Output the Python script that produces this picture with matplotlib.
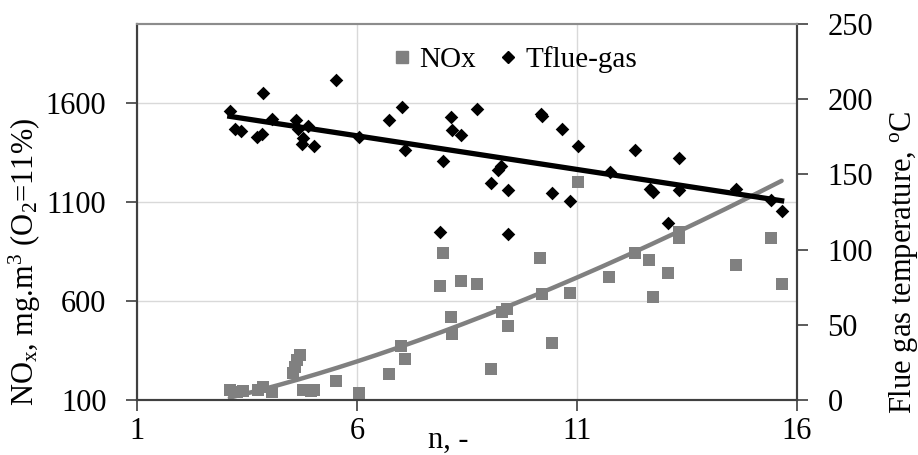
import matplotlib.pyplot as plt
import numpy as np

plt.rcParams['font.family'] = ['Liberation Serif', 'DejaVu Serif']
plt.rcParams['mathtext.fontset'] = 'custom'
plt.rcParams['mathtext.rm'] = 'Liberation Serif'
plt.rcParams['mathtext.it'] = 'Liberation Serif:italic'

# NOx measurements (left axis)
n_nox = [3.11, 3.27, 3.40, 3.76, 3.87, 4.06, 4.55, 4.59, 4.63, 4.70, 4.78, 4.95, 5.02,
         5.52, 6.05, 6.73, 7.01, 7.09, 7.89, 7.95, 8.13, 8.15, 8.36, 8.72, 9.05, 9.29,
         9.40, 9.44, 10.16, 10.21, 10.44, 10.83, 11.02, 11.73, 12.32, 12.64, 12.72,
         13.06, 13.32, 13.32, 14.61, 15.40, 15.65]
nox = [150, 142, 145, 150, 165, 142, 235, 265, 300, 327, 150, 148, 150,
       196, 134, 230, 374, 305, 676, 844, 521, 432, 699, 684, 257, 546,
       558, 475, 816, 634, 386, 639, 1202, 723, 841, 807, 619,
       740, 950, 920, 782, 917, 686]

# points read along the NOx power trendline
n_nox_trend = [4.21, 5.45, 8.5, 11.6, 12.32, 15.65]
nox_trend = [176, 250, 505, 790, 841, 1191]

# flue gas temperature (right axis)
n_temp = [3.11, 3.23, 3.36, 3.72, 3.83, 3.87, 4.06, 4.61, 4.67, 4.74, 4.78, 4.89, 5.02,
          5.52, 6.05, 6.73, 7.03, 7.10, 7.89, 7.96, 8.13, 8.16, 8.36, 8.72, 9.05, 9.21,
          9.27, 9.44, 9.44, 10.18, 10.20, 10.44, 10.67, 10.84, 11.03, 11.74, 12.32,
          12.66, 12.72, 13.06, 13.32, 13.32, 14.61, 15.42, 15.65]
temp = [192, 180, 179, 175, 177, 204, 187, 186, 180, 170, 174, 182, 169,
        213, 175, 186, 194.5, 166.5, 111.5, 159, 188, 179.5, 176, 193.5, 144.5, 153,
        155.5, 139.5, 110.5, 190, 189, 137.7, 180.5, 132.4, 168.7, 151.7, 166,
        140, 138.4, 117.8, 161, 139.5, 140.2, 132.9, 125.8]

gray = '#808080'

fig = plt.figure(figsize=(9.18, 4.55), dpi=100)
ax = fig.add_axes([137 / 918, 1 - 400 / 455, 660 / 918, 376 / 455])
ax2 = ax.twinx()

# NOx + power trend
ax.scatter(n_nox, nox, marker='s', s=75, color=gray, zorder=3, linewidths=0)
b, lna = np.polyfit(np.log(n_nox_trend), np.log(nox_trend), 1)
xx = np.linspace(min(n_nox), max(n_nox), 200)
ax.plot(xx, np.exp(lna) * xx ** b, color=gray, lw=3.2, zorder=4, solid_capstyle='round')

# temperature + linear trend
ax2.scatter(n_temp, temp, marker='D', s=48, color='black', zorder=3, linewidths=0)
c2 = np.polyfit(n_temp, temp, 1)
xx2 = np.linspace(min(n_temp), max(n_temp), 50)
ax2.plot(xx2, np.polyval(c2, xx2), color='black', lw=3.8, zorder=4)

ax.set_xlim(1, 16)
ax.set_xticks([1, 6, 11, 16])
ax.set_ylim(100, 2000)
ax.set_yticks([100, 600, 1100, 1600])
ax2.set_ylim(0, 250)
ax2.set_yticks([0, 50, 100, 150, 200, 250])

ax.grid(color='#d9d9d9', lw=1)
ax.set_axisbelow(True)

for a in (ax, ax2):
    a.tick_params(labelsize=22, direction='out', length=8, width=1.2, color='#404040')
    a.tick_params(axis='y', pad=14)
    for s in ('left', 'right', 'bottom'):
        a.spines[s].set_color('#404040')
        a.spines[s].set_linewidth(1.5)
    a.spines['top'].set_color('#8c8c8c')
    a.spines['top'].set_linewidth(1.5)
ax.tick_params(axis='x', pad=4)

# legend
h1 = plt.Line2D([], [], marker='s', ls='none', color=gray, markersize=9)
h2 = plt.Line2D([], [], marker='D', ls='none', color='black', markersize=6.5)
ax2.legend([h1, h2], ['NOx', 'Tflue-gas'], loc='upper center', bbox_to_anchor=(0.573, 1.01),
           ncol=2, frameon=False, fontsize=21, handlelength=0.6, handletextpad=0.3,
           columnspacing=0.8)

fig.text(25 / 918, 1 - 262 / 455, r'NO$_\mathrm{x}$, mg.m$^3$ (O$_2$=11%)', rotation=90,
         ha='center', va='center', fontsize=22)
fig.text(903 / 918, 1 - 262 / 455, r'Flue gas temperature, $^{\rm o}$C', rotation=90,
         ha='center', va='center', fontsize=22)
fig.text(448 / 918, 1 - 440 / 455, 'n, -', ha='center', va='center', fontsize=22)

plt.savefig('out.png', dpi=100)
